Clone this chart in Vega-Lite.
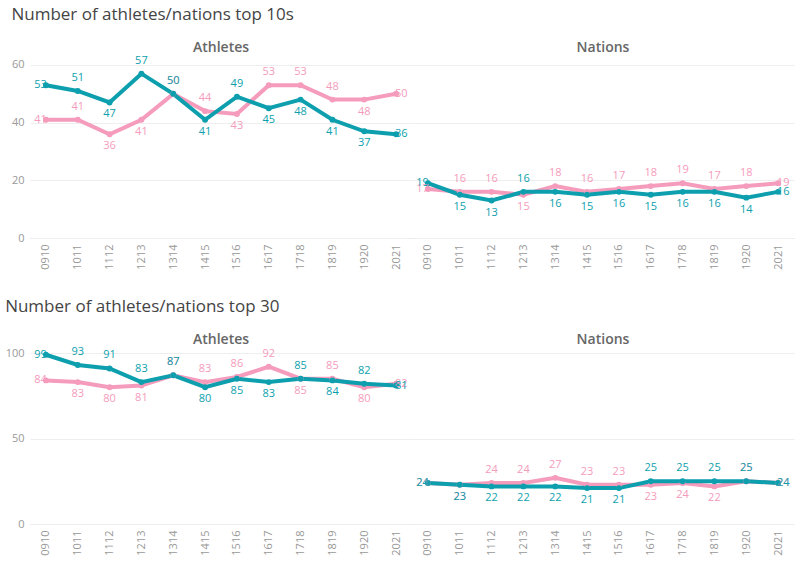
{
  "$schema": "https://vega.github.io/schema/vega-lite/v6.json",
  "padding": {"left": 5, "right": 5, "top": 6, "bottom": 2},
  "spacing": 28,
  "config": {
    "font": "Open Sans",
    "view": {"stroke": null},
    "axisY": {"title": null, "grid": true, "gridColor": "#eeeeee", "domain": false, "ticks": false, "labelColor": "#999999", "labelFontSize": 11, "labelPadding": 6},
    "axisX": {"title": null, "labelAngle": 270, "labelColor": "#999999", "labelFontSize": 11, "domainColor": "#c8c8c8", "domainDash": [2, 2], "ticks": false, "labelPadding": 6, "grid": false},
    "header": {"labelFontSize": 14, "labelColor": "#666666", "labelFontWeight": 600, "labelPadding": -1, "title": null}
  },
  "datasets": {
    "d": [
      {"g":"top10","panel":"Athletes","series":"Series 1","season":"0910","value":41},
      {"g":"top10","panel":"Athletes","series":"Series 1","season":"1011","value":41},
      {"g":"top10","panel":"Athletes","series":"Series 1","season":"1112","value":36},
      {"g":"top10","panel":"Athletes","series":"Series 1","season":"1213","value":41},
      {"g":"top10","panel":"Athletes","series":"Series 1","season":"1314","value":50},
      {"g":"top10","panel":"Athletes","series":"Series 1","season":"1415","value":44},
      {"g":"top10","panel":"Athletes","series":"Series 1","season":"1516","value":43},
      {"g":"top10","panel":"Athletes","series":"Series 1","season":"1617","value":53},
      {"g":"top10","panel":"Athletes","series":"Series 1","season":"1718","value":53},
      {"g":"top10","panel":"Athletes","series":"Series 1","season":"1819","value":48},
      {"g":"top10","panel":"Athletes","series":"Series 1","season":"1920","value":48},
      {"g":"top10","panel":"Athletes","series":"Series 1","season":"2021","value":50},
      {"g":"top10","panel":"Nations","series":"Series 1","season":"0910","value":17},
      {"g":"top10","panel":"Nations","series":"Series 1","season":"1011","value":16},
      {"g":"top10","panel":"Nations","series":"Series 1","season":"1112","value":16},
      {"g":"top10","panel":"Nations","series":"Series 1","season":"1213","value":15},
      {"g":"top10","panel":"Nations","series":"Series 1","season":"1314","value":18},
      {"g":"top10","panel":"Nations","series":"Series 1","season":"1415","value":16},
      {"g":"top10","panel":"Nations","series":"Series 1","season":"1516","value":17},
      {"g":"top10","panel":"Nations","series":"Series 1","season":"1617","value":18},
      {"g":"top10","panel":"Nations","series":"Series 1","season":"1718","value":19},
      {"g":"top10","panel":"Nations","series":"Series 1","season":"1819","value":17},
      {"g":"top10","panel":"Nations","series":"Series 1","season":"1920","value":18},
      {"g":"top10","panel":"Nations","series":"Series 1","season":"2021","value":19},
      {"g":"top10","panel":"Athletes","series":"Series 2","season":"0910","value":53},
      {"g":"top10","panel":"Athletes","series":"Series 2","season":"1011","value":51},
      {"g":"top10","panel":"Athletes","series":"Series 2","season":"1112","value":47},
      {"g":"top10","panel":"Athletes","series":"Series 2","season":"1213","value":57},
      {"g":"top10","panel":"Athletes","series":"Series 2","season":"1314","value":50},
      {"g":"top10","panel":"Athletes","series":"Series 2","season":"1415","value":41},
      {"g":"top10","panel":"Athletes","series":"Series 2","season":"1516","value":49},
      {"g":"top10","panel":"Athletes","series":"Series 2","season":"1617","value":45},
      {"g":"top10","panel":"Athletes","series":"Series 2","season":"1718","value":48},
      {"g":"top10","panel":"Athletes","series":"Series 2","season":"1819","value":41},
      {"g":"top10","panel":"Athletes","series":"Series 2","season":"1920","value":37},
      {"g":"top10","panel":"Athletes","series":"Series 2","season":"2021","value":36},
      {"g":"top10","panel":"Nations","series":"Series 2","season":"0910","value":19},
      {"g":"top10","panel":"Nations","series":"Series 2","season":"1011","value":15},
      {"g":"top10","panel":"Nations","series":"Series 2","season":"1112","value":13},
      {"g":"top10","panel":"Nations","series":"Series 2","season":"1213","value":16},
      {"g":"top10","panel":"Nations","series":"Series 2","season":"1314","value":16},
      {"g":"top10","panel":"Nations","series":"Series 2","season":"1415","value":15},
      {"g":"top10","panel":"Nations","series":"Series 2","season":"1516","value":16},
      {"g":"top10","panel":"Nations","series":"Series 2","season":"1617","value":15},
      {"g":"top10","panel":"Nations","series":"Series 2","season":"1718","value":16},
      {"g":"top10","panel":"Nations","series":"Series 2","season":"1819","value":16},
      {"g":"top10","panel":"Nations","series":"Series 2","season":"1920","value":14},
      {"g":"top10","panel":"Nations","series":"Series 2","season":"2021","value":16},
      {"g":"top30","panel":"Athletes","series":"Series 1","season":"0910","value":84},
      {"g":"top30","panel":"Athletes","series":"Series 1","season":"1011","value":83},
      {"g":"top30","panel":"Athletes","series":"Series 1","season":"1112","value":80},
      {"g":"top30","panel":"Athletes","series":"Series 1","season":"1213","value":81},
      {"g":"top30","panel":"Athletes","series":"Series 1","season":"1314","value":87},
      {"g":"top30","panel":"Athletes","series":"Series 1","season":"1415","value":83},
      {"g":"top30","panel":"Athletes","series":"Series 1","season":"1516","value":86},
      {"g":"top30","panel":"Athletes","series":"Series 1","season":"1617","value":92},
      {"g":"top30","panel":"Athletes","series":"Series 1","season":"1718","value":85},
      {"g":"top30","panel":"Athletes","series":"Series 1","season":"1819","value":85},
      {"g":"top30","panel":"Athletes","series":"Series 1","season":"1920","value":80},
      {"g":"top30","panel":"Athletes","series":"Series 1","season":"2021","value":82},
      {"g":"top30","panel":"Nations","series":"Series 1","season":"0910","value":24},
      {"g":"top30","panel":"Nations","series":"Series 1","season":"1011","value":23},
      {"g":"top30","panel":"Nations","series":"Series 1","season":"1112","value":24},
      {"g":"top30","panel":"Nations","series":"Series 1","season":"1213","value":24},
      {"g":"top30","panel":"Nations","series":"Series 1","season":"1314","value":27},
      {"g":"top30","panel":"Nations","series":"Series 1","season":"1415","value":23},
      {"g":"top30","panel":"Nations","series":"Series 1","season":"1516","value":23},
      {"g":"top30","panel":"Nations","series":"Series 1","season":"1617","value":23},
      {"g":"top30","panel":"Nations","series":"Series 1","season":"1718","value":24},
      {"g":"top30","panel":"Nations","series":"Series 1","season":"1819","value":22},
      {"g":"top30","panel":"Nations","series":"Series 1","season":"1920","value":25},
      {"g":"top30","panel":"Nations","series":"Series 1","season":"2021","value":24},
      {"g":"top30","panel":"Athletes","series":"Series 2","season":"0910","value":99},
      {"g":"top30","panel":"Athletes","series":"Series 2","season":"1011","value":93},
      {"g":"top30","panel":"Athletes","series":"Series 2","season":"1112","value":91},
      {"g":"top30","panel":"Athletes","series":"Series 2","season":"1213","value":83},
      {"g":"top30","panel":"Athletes","series":"Series 2","season":"1314","value":87},
      {"g":"top30","panel":"Athletes","series":"Series 2","season":"1415","value":80},
      {"g":"top30","panel":"Athletes","series":"Series 2","season":"1516","value":85},
      {"g":"top30","panel":"Athletes","series":"Series 2","season":"1617","value":83},
      {"g":"top30","panel":"Athletes","series":"Series 2","season":"1718","value":85},
      {"g":"top30","panel":"Athletes","series":"Series 2","season":"1819","value":84},
      {"g":"top30","panel":"Athletes","series":"Series 2","season":"1920","value":82},
      {"g":"top30","panel":"Athletes","series":"Series 2","season":"2021","value":81},
      {"g":"top30","panel":"Nations","series":"Series 2","season":"0910","value":24},
      {"g":"top30","panel":"Nations","series":"Series 2","season":"1011","value":23},
      {"g":"top30","panel":"Nations","series":"Series 2","season":"1112","value":22},
      {"g":"top30","panel":"Nations","series":"Series 2","season":"1213","value":22},
      {"g":"top30","panel":"Nations","series":"Series 2","season":"1314","value":22},
      {"g":"top30","panel":"Nations","series":"Series 2","season":"1415","value":21},
      {"g":"top30","panel":"Nations","series":"Series 2","season":"1516","value":21},
      {"g":"top30","panel":"Nations","series":"Series 2","season":"1617","value":25},
      {"g":"top30","panel":"Nations","series":"Series 2","season":"1718","value":25},
      {"g":"top30","panel":"Nations","series":"Series 2","season":"1819","value":25},
      {"g":"top30","panel":"Nations","series":"Series 2","season":"1920","value":25},
      {"g":"top30","panel":"Nations","series":"Series 2","season":"2021","value":24}
    ]
  },
  "vconcat": [
    {
      "title": {"text": "Number of athletes/nations top 10s", "anchor": "start", "frame": "bounds", "fontSize": 17, "fontWeight": "normal", "color": "#444444", "offset": 17},
      "data": {"name": "d"},
      "transform": [
        {"filter": "datum.g === 'top10'"},
        {"window": [{"op": "lag", "field": "value", "as": "prev"}, {"op": "lead", "field": "value", "as": "next"}], "groupby": ["panel", "series"], "sort": [{"field": "season"}]},
        {"joinaggregate": [{"op": "sum", "field": "value", "as": "tot"}], "groupby": ["panel", "season"]},
        {"calculate": "datum.value - (datum.tot - datum.value)", "as": "diff"},
        {"calculate": "datum.season === '0910' ? 'left' : (datum.season === '2021' ? 'right' : ((datum.diff !== 0 && abs(datum.diff) <= 8) ? (datum.diff > 0 ? 'above' : 'below') : (datum.value > (datum.prev + datum.next) / 2 ? 'above' : 'below')))", "as": "pos"}
      ],
      "facet": {"column": {"field": "panel", "type": "nominal", "sort": ["Athletes", "Nations"], "header": {"title": null}}},
      "spacing": 0,
      "spec": {
        "width": 382,
        "height": 176,
        "encoding": {
          "x": {"field": "season", "type": "ordinal", "scale": {"type": "point", "padding": 0.5}},
          "y": {"field": "value", "type": "quantitative", "scale": {"domain": [0, 61.04], "nice": false}, "axis": {"values": [0, 20, 40, 60]}},
          "color": {"field": "series", "type": "nominal", "scale": {"domain": ["Series 1", "Series 2"], "range": ["#f59bbc", "#0d9fae"]}, "legend": null}
        },
        "layer": [
          {"mark": {"type": "line", "strokeWidth": 4}},
          {"mark": {"type": "point", "filled": true, "size": 35, "opacity": 1}},
          {"transform": [{"filter": "datum.pos === 'above'"}], "mark": {"type": "text", "dy": -13, "fontSize": 11, "baseline": "middle"}, "encoding": {"text": {"field": "value"}}},
          {"transform": [{"filter": "datum.pos === 'below'"}], "mark": {"type": "text", "dy": 12, "fontSize": 11, "baseline": "middle"}, "encoding": {"text": {"field": "value"}}},
          {"transform": [{"filter": "datum.pos === 'left'"}], "mark": {"type": "text", "dx": 1, "align": "right", "fontSize": 11, "baseline": "middle"}, "encoding": {"text": {"field": "value"}}},
          {"transform": [{"filter": "datum.pos === 'right'"}], "mark": {"type": "text", "dx": -1, "align": "left", "fontSize": 11, "baseline": "middle"}, "encoding": {"text": {"field": "value"}}}
        ]
      }
    },
    {
      "title": {"text": "Number of athletes/nations top 30", "anchor": "start", "frame": "bounds", "fontSize": 17, "fontWeight": "normal", "color": "#444444", "offset": 17},
      "data": {"name": "d"},
      "transform": [
        {"filter": "datum.g === 'top30'"},
        {"window": [{"op": "lag", "field": "value", "as": "prev"}, {"op": "lead", "field": "value", "as": "next"}], "groupby": ["panel", "series"], "sort": [{"field": "season"}]},
        {"joinaggregate": [{"op": "sum", "field": "value", "as": "tot"}], "groupby": ["panel", "season"]},
        {"calculate": "datum.value - (datum.tot - datum.value)", "as": "diff"},
        {"calculate": "datum.season === '0910' ? 'left' : (datum.season === '2021' ? 'right' : ((datum.diff !== 0 && abs(datum.diff) <= 14) ? (datum.diff > 0 ? 'above' : 'below') : (datum.value > (datum.prev + datum.next) / 2 ? 'above' : 'below')))", "as": "pos"}
      ],
      "facet": {"column": {"field": "panel", "type": "nominal", "sort": ["Athletes", "Nations"], "header": {"title": null}}},
      "spacing": 0,
      "spec": {
        "width": 382,
        "height": 173,
        "encoding": {
          "x": {"field": "season", "type": "ordinal", "scale": {"type": "point", "padding": 0.5}},
          "y": {"field": "value", "type": "quantitative", "scale": {"domain": [0, 101.2], "nice": false}, "axis": {"values": [0, 50, 100]}},
          "color": {"field": "series", "type": "nominal", "scale": {"domain": ["Series 1", "Series 2"], "range": ["#f59bbc", "#0d9fae"]}, "legend": null}
        },
        "layer": [
          {"mark": {"type": "line", "strokeWidth": 4}},
          {"mark": {"type": "point", "filled": true, "size": 35, "opacity": 1}},
          {"transform": [{"filter": "datum.pos === 'above'"}], "mark": {"type": "text", "dy": -13, "fontSize": 11, "baseline": "middle"}, "encoding": {"text": {"field": "value"}}},
          {"transform": [{"filter": "datum.pos === 'below'"}], "mark": {"type": "text", "dy": 12, "fontSize": 11, "baseline": "middle"}, "encoding": {"text": {"field": "value"}}},
          {"transform": [{"filter": "datum.pos === 'left'"}], "mark": {"type": "text", "dx": 1, "align": "right", "fontSize": 11, "baseline": "middle"}, "encoding": {"text": {"field": "value"}}},
          {"transform": [{"filter": "datum.pos === 'right'"}], "mark": {"type": "text", "dx": -1, "align": "left", "fontSize": 11, "baseline": "middle"}, "encoding": {"text": {"field": "value"}}}
        ]
      }
    }
  ]
}
